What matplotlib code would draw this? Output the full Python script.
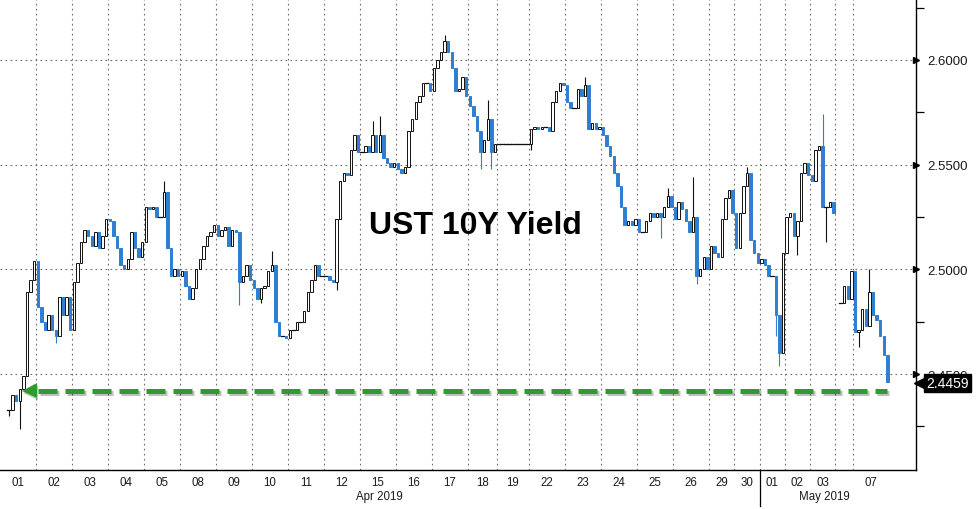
import matplotlib

matplotlib.use("Agg")
import matplotlib.patheffects as pe
import matplotlib.pyplot as plt
import numpy as np
from matplotlib.patches import Rectangle
from matplotlib.transforms import blended_transform_factory

nan = np.nan

# Intraday closes per session (UST 10Y yield, %)
apr01 = [nan, nan, 2.433, 2.440, 2.437, 2.443, 2.449, 2.489, 2.495, 2.504]
apr02 = [2.482, 2.475, 2.471, 2.478, 2.471, 2.468, 2.487, 2.478, 2.487, 2.471]
apr03 = [2.494, 2.503, 2.513, 2.519, 2.516, 2.511, 2.518, 2.510, 2.516, 2.524]
apr04 = [2.523, 2.516, 2.510, 2.502, 2.500, 2.505, 2.518, 2.510, 2.506, 2.513]
apr05 = [2.530, 2.529, 2.530, 2.525, 2.525, 2.537, 2.510, 2.497, 2.500, 2.497]
apr08 = [2.499, 2.492, 2.486, 2.491, 2.500, 2.505, 2.511, 2.516, 2.518, 2.521]
apr09 = [2.516, 2.519, 2.520, 2.511, 2.519, 2.518, 2.494, 2.497, 2.502, 2.495]
apr10 = [2.491, 2.486, 2.491, 2.492, 2.499, 2.502, 2.475, 2.468, 2.468, 2.467]
apr11 = [2.471, 2.471, 2.475, 2.475, 2.480, 2.489, 2.495, 2.502, 2.497, 2.497]
apr12 = [2.497, 2.495, 2.494, 2.524, 2.542, 2.546, 2.545, 2.557, 2.564, 2.556]
apr15 = [2.556, 2.559, 2.556, 2.564, 2.556, 2.564, 2.553, 2.551, 2.549, 2.551]
apr16 = [2.548, 2.546, 2.549, 2.566, 2.572, 2.580, 2.583, 2.589, 2.589, 2.585]
apr17 = [2.596, 2.600, 2.604, 2.609, 2.604, 2.596, 2.585, 2.586, 2.592, 2.583]
apr18 = [2.578, 2.573, 2.566, 2.556, 2.562, 2.572, 2.556, 2.560]
apr19 = [2.560, 2.560, 2.560, 2.560, 2.560, 2.560, 2.560, 2.560, 2.560]
apr22 = [2.567, 2.568, 2.567, 2.568, 2.568, 2.566, 2.580, 2.585, 2.589, 2.588]
apr23 = [2.580, 2.577, 2.577, 2.586, 2.583, 2.588, 2.567, 2.570, 2.567, 2.568]
apr24 = [2.564, 2.559, 2.554, 2.546, 2.540, 2.530, 2.521, 2.523, 2.521, 2.524]
apr25 = [2.518, 2.518, 2.523, 2.527, 2.525, 2.527, 2.525, 2.530, 2.535, 2.530]
apr26 = [2.524, 2.532, 2.529, 2.523, 2.518, 2.525, 2.497, 2.500, 2.506, 2.500]
apr29 = [2.511, 2.508, 2.506, 2.524, 2.534, 2.538, 2.527]
apr30 = [2.510, 2.527, 2.540, 2.546, 2.514, 2.508, 2.503]
may01 = [2.505, 2.502, 2.497, 2.497, 2.478, 2.460, 2.508]
may02 = [2.525, 2.527, 2.516, 2.523, 2.546, 2.551, 2.545]
may03 = [2.542, 2.557, 2.559, 2.530, 2.530, 2.532, 2.527]
may06 = [nan, 2.484, 2.492, 2.486, 2.499]
may07 = [2.470, 2.471, 2.481, 2.473, 2.489, 2.478, 2.476, 2.468, 2.459, 2.446]

sessions = [apr01, apr02, apr03, apr04, apr05, apr08, apr09, apr10, apr11,
            apr12, apr15, apr16, apr17, apr18, apr19, apr22, apr23, apr24,
            apr25, apr26, apr29, apr30, may01, may02, may03, may06, may07]
day_labels = ["01", "02", "03", "04", "05", "08", "09", "10", "11", "12",
              "15", "16", "17", "18", "19", "22", "23", "24", "25", "26",
              "29", "30", "01", "02", "03", "", "07"]
months = ["Apr 2019", "May 2019"]
month_first_session = [0, 22]

# wick extremes beyond the candle bodies: (session, bar in session, value)
wick_session = [0, 0, 1, 4, 6, 7, 7, 9, 10, 10, 12, 13, 13, 13, 15, 16,
                18, 18, 19, 19, 21, 22, 22, 23, 24, 24, 26, 26]
wick_bar = [2, 5, 5, 5, 6, 2, 5, 3, 3, 5, 3, 3, 5, 6, 0, 5,
            6, 8, 5, 6, 3, 4, 5, 3, 3, 4, 1, 4]
wick_value = [2.430, 2.424, 2.465, 2.542, 2.483, 2.484, 2.509, 2.490, 2.571,
              2.573, 2.612, 2.548, 2.581, 2.548, 2.557, 2.592, 2.515, 2.539,
              2.544, 2.493, 2.549, 2.468, 2.454, 2.507, 2.574, 2.513, 2.463,
              2.500]

last_price = 2.4459
arrow_level = 2.442
y_major = [2.45, 2.50, 2.55, 2.60]
y_minor = [2.425, 2.475, 2.525, 2.575, 2.625]

UP_EDGE = "#111111"
DOWN_COLOR = "#2e7fd2"
GRID = "#6e6e6e"
GREEN = "#2f9a2f"
LABEL_FONT = ["Liberation Sans", "DejaVu Sans"]

closes = np.concatenate([np.array(s, dtype=float) for s in sessions])
sizes = np.array([len(s) for s in sessions])
starts = np.concatenate([[0], np.cumsum(sizes)[:-1]])
ends = starts + sizes

highs = {}
lows = {}
for s, b, v in zip(wick_session, wick_bar, wick_value):
    k = starts[s] + b
    highs[k] = max(highs.get(k, v), v)
    lows[k] = min(lows.get(k, v), v)

fig = plt.figure(figsize=(9.76, 5.10), dpi=100)
ax = fig.add_axes([0.0, 39 / 510, 916 / 976, 471 / 510])
ax.set_xlim(-0.5, 253.94)
ax.set_ylim(2.4042, 2.6291)

# grid
for y in y_major:
    ax.axhline(y, color=GRID, lw=0.8, dashes=(1.5, 3), zorder=1)
for b in starts[1:]:
    ax.axvline(b - 0.5, color=GRID, lw=0.8, dashes=(1.5, 3), zorder=1)

# candles: open = previous close
body_w = 0.62
prev = nan
for k, c in enumerate(closes):
    if np.isnan(c):
        prev = nan
        continue
    o = c if np.isnan(prev) else prev
    prev = c
    lo, hi = min(o, c), max(o, c)
    up = c >= o
    col = UP_EDGE if up else DOWN_COLOR
    wl, wh = lows.get(k, lo), highs.get(k, hi)
    if wl < lo or wh > hi:
        ax.plot([k, k], [min(wl, lo), max(wh, hi)], color=col, lw=0.8,
                zorder=3, solid_capstyle="butt")
    if o == c:
        ax.plot([k - 0.5, k + 0.5], [c, c], color=UP_EDGE, lw=0.9, zorder=4)
        continue
    ax.add_patch(Rectangle((k - body_w / 2, lo), body_w, hi - lo,
                           facecolor="white" if up else DOWN_COLOR,
                           edgecolor=col, lw=0.7, zorder=4))

# green dashed arrow at the starting level
last_k = len(closes) - 1
x_start = 7.6
ax.plot([x_start + 2.5, last_k], [arrow_level, arrow_level], color=GREEN,
        lw=3.6, dashes=(3.8, 1.6), solid_capstyle="butt", zorder=5,
        path_effects=[pe.SimpleLineShadow(offset=(1.2, -1.2), alpha=0.25),
                      pe.Normal()])
ax.plot([x_start], [arrow_level], marker="<", ms=11, color=GREEN,
        markeredgewidth=0, zorder=5,
        path_effects=[pe.SimplePatchShadow(offset=(1.2, -1.2), alpha=0.25),
                      pe.Normal()])

ax.text(0.5186, 0.52, "UST 10Y Yield", transform=ax.transAxes,
        ha="center", va="center", fontsize=23, fontweight="bold",
        family=LABEL_FONT, color="black")

# spines
for side in ("top", "left"):
    ax.spines[side].set_visible(False)
for side in ("right", "bottom"):
    ax.spines[side].set_color("black")
    ax.spines[side].set_linewidth(1.0)

# y axis on the right
ax.yaxis.tick_right()
ax.set_yticks(y_major)
ax.set_yticklabels([f"{v:.4f}" for v in y_major], family=LABEL_FONT,
                   fontsize=9.5, color="#1a1a1a")
ax.set_yticks(y_minor, minor=True)
ax.tick_params(axis="y", which="major", length=0, pad=8)
ax.tick_params(axis="y", which="minor", length=6, width=0.9, color="black",
               direction="out")
ax.tick_params(axis="y", which="both", left=False)
ytrans = blended_transform_factory(ax.transAxes, ax.transData)
ax.plot([1.0] * len(y_major), y_major, ls="", marker=">", ms=5,
        color="black", transform=ytrans, clip_on=False, zorder=6)

# last price tag
ax.plot([1.0 + 4 / 916], [last_price], ls="", marker="<", ms=8,
        color="black", transform=ytrans, clip_on=False, zorder=9)
ax.text(1.0 + 10 / 916, last_price, f"{last_price:.4f}", transform=ytrans,
        ha="left", va="center", color="white", fontsize=10,
        family=LABEL_FONT, zorder=10, clip_on=False,
        bbox=dict(boxstyle="square,pad=0.15", fc="black", ec="black"))

# x axis: day labels, month labels, month separator
ax.set_xticks([])
xtrans = blended_transform_factory(ax.transData, ax.transAxes)
for lab, s0, n in zip(day_labels, starts, sizes):
    ax.text(s0 + n / 2 - 0.5, -14.7 / 471, lab, transform=xtrans,
            ha="center", va="baseline", fontsize=8.3, family=LABEL_FONT,
            color="#1a1a1a")
month_edges = list(month_first_session) + [len(sessions)]
for i, m in enumerate(months):
    a = starts[month_edges[i]] - 0.5
    b = ends[month_edges[i + 1] - 1] - 0.5
    ax.text((a + b) / 2, -29 / 471, m, transform=xtrans, ha="center",
            va="baseline", fontsize=8.3, family=LABEL_FONT, color="#1a1a1a")
sep = starts[month_first_session[1]] - 0.5
ax.plot([sep, sep], [0, -36 / 471], color="black", lw=0.9,
        transform=xtrans, clip_on=False)

fig.savefig("out.png", dpi=100, facecolor="white")
